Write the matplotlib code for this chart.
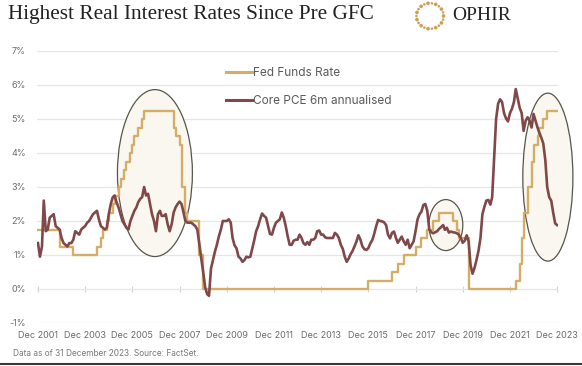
import numpy as np
import pandas as pd
import matplotlib
matplotlib.use("Agg")
import matplotlib.pyplot as plt
import matplotlib.dates as mdates
from matplotlib.patches import Ellipse
from matplotlib.lines import Line2D

# Core PCE 6m annualised (%), monthly from Dec 2001 to Dec 2023
pce_start = "2001-12-01"
pce_values = [
    1.35,                                                                  # Dec 2001
    0.95, 1.25, 2.6, 1.7, 1.75, 2.1, 2.15, 2.2, 1.85, 1.8, 1.75, 1.5,      # 2002
    1.35, 1.3, 1.25, 1.35, 1.35, 1.45, 1.7, 1.65, 1.6, 1.75, 1.8, 1.85,    # 2003
    1.95, 2.0, 2.1, 2.2, 2.25, 2.3, 2.05, 1.85, 1.8, 1.75, 1.8, 2.2,       # 2004
    2.5, 2.7, 2.75, 2.55, 2.4, 2.2, 2.0, 1.9, 1.8, 1.75, 2.0, 2.15,        # 2005
    2.3, 2.4, 2.55, 2.65, 2.7, 3.0, 2.75, 2.8, 2.5, 2.2, 2.0, 1.7,         # 2006
    2.2, 2.3, 2.15, 2.15, 2.2, 1.9, 1.7, 1.9, 2.25, 2.4, 2.5, 2.57,        # 2007
    2.5, 2.25, 2.0, 1.95, 1.95, 1.95, 1.9, 1.85, 1.75, 1.35, 0.9, 0.5,     # 2008
    0.05, -0.15, -0.2, 0.6, 0.85, 1.1, 1.3, 1.55, 1.75, 2.0, 2.0, 2.0,     # 2009
    2.05, 1.95, 1.5, 1.28, 1.2, 0.95, 0.9, 0.8, 0.85, 0.95, 0.93, 0.95,    # 2010
    1.2, 1.45, 1.7, 1.85, 2.05, 2.22, 2.15, 2.1, 1.85, 1.62, 1.6, 1.8,     # 2011
    1.95, 2.0, 2.05, 2.25, 2.1, 1.85, 1.55, 1.3, 1.3, 1.42, 1.45, 1.45,    # 2012
    1.6, 1.5, 1.35, 1.3, 1.38, 1.3, 1.45, 1.45, 1.5, 1.7, 1.72, 1.6,       # 2013
    1.6, 1.52, 1.5, 1.5, 1.5, 1.5, 1.65, 1.6, 1.5, 1.3, 1.18, 0.95,        # 2014
    0.8, 0.9, 1.02, 1.12, 1.25, 1.4, 1.58, 1.45, 1.25, 1.17, 1.15, 1.2,    # 2015
    1.34, 1.44, 1.62, 1.85, 2.03, 2.0, 1.99, 1.96, 1.88, 1.6, 1.49, 1.65,  # 2016
    1.69, 1.5, 1.36, 1.45, 1.54, 1.4, 1.3, 1.45, 1.2, 1.3, 1.4, 1.7,       # 2017
    2.05, 2.2, 2.27, 2.47, 2.5, 2.3, 1.75, 1.67, 1.64, 1.67, 1.7, 1.77,    # 2018
    1.82, 1.88, 1.74, 1.8, 1.66, 1.69, 1.67, 1.66, 1.64, 1.6, 1.5, 1.36,   # 2019
    1.42, 1.58, 1.4, 0.7, 0.45, 0.62, 0.85, 1.12, 1.5, 2.2, 2.42, 2.6,     # 2020
    2.62, 2.48, 2.7, 3.9, 5.0, 5.45, 5.58, 5.5, 5.17, 5.02, 4.93, 5.17,    # 2021
    5.3, 5.5, 5.88, 5.6, 5.33, 5.17, 4.65, 4.95, 5.05, 4.95, 4.75, 5.15,   # 2022
    4.95, 4.75, 4.6, 4.45, 4.28, 3.8, 3.0, 2.7, 2.6, 2.25, 1.93, 1.88,     # 2023
]

# Fed Funds Rate (%), month of each change
fed_dates = [
    "2001-12-01", "2002-11-01", "2003-06-01", "2004-06-01", "2004-08-01",
    "2004-09-01", "2004-11-01", "2004-12-01", "2005-02-01", "2005-03-01",
    "2005-05-01", "2005-06-01", "2005-08-01", "2005-09-01", "2005-11-01",
    "2005-12-01", "2006-01-01", "2006-03-01", "2006-05-01", "2006-06-01",
    "2007-09-01", "2007-10-01", "2007-12-01", "2008-01-01", "2008-03-01",
    "2008-04-01", "2008-10-01", "2008-12-01", "2015-12-01", "2016-12-01",
    "2017-03-01", "2017-06-01", "2017-12-01", "2018-03-01", "2018-06-01",
    "2018-09-01", "2018-12-01", "2019-07-01", "2019-09-01", "2019-10-01",
    "2020-03-01", "2022-03-01", "2022-05-01", "2022-06-01", "2022-07-01",
    "2022-09-01", "2022-11-01", "2022-12-01", "2023-02-01", "2023-03-01",
    "2023-05-01", "2023-07-01", "2023-12-01",
]
fed_rates = [
    1.75, 1.25, 1.0, 1.25, 1.5,
    1.75, 2.0, 2.25, 2.5, 2.75,
    3.0, 3.25, 3.5, 3.75, 4.0,
    4.25, 4.5, 4.75, 5.0, 5.25,
    4.75, 4.5, 4.25, 3.0, 2.25,
    2.0, 1.0, 0.0, 0.25, 0.5,
    0.75, 1.0, 1.25, 1.5, 1.75,
    2.0, 2.25, 2.0, 1.75, 1.5,
    0.0, 0.25, 0.75, 1.5, 2.25,
    3.0, 3.75, 4.25, 4.5, 4.75,
    5.0, 5.25, 5.25,
]

y_ticks = [-1, 0, 1, 2, 3, 4, 5, 6, 7]
x_tick_years = list(range(2001, 2024, 2))

# circled periods: centre date, centre value, width (days), height (%)
highlights = [
    ("2006-11-15", 3.41, 1160, 4.91),
    ("2019-03-15", 1.88, 525, 1.50),
    ("2023-07-11", 3.29, 775, 4.94),
]

gold = "#d4ae66"
maroon = "#804848"
grey_text = "#6b6b6b"
tick_font = "Inter"

pce_dates = pd.date_range(pce_start, periods=len(pce_values), freq="MS")
fed_x = pd.to_datetime(fed_dates)

fig = plt.figure(figsize=(5.82, 3.66), dpi=100)
ax = fig.add_axes([37 / 582, 43 / 366, 521 / 582, 272 / 366])

for c, v, w, h in highlights:
    e = Ellipse((mdates.date2num(pd.Timestamp(c)), v), w, h,
                facecolor="#faf7f0", edgecolor="#55554a", lw=0.9,
                zorder=1, clip_on=False)
    ax.add_patch(e)

ax.plot(fed_x, fed_rates, drawstyle="steps-post", color=gold, lw=1.7, zorder=3)
ax.plot(pce_dates, pce_values, color=maroon, lw=1.9, zorder=4)

ax.set_ylim(-1, 7)
ax.set_xlim(pd.Timestamp("2001-11-16"), pd.Timestamp("2023-12-15"))
ax.set_yticks(y_ticks)
ax.set_yticklabels([f"{t}%" for t in y_ticks])
xt = [pd.Timestamp(f"{y}-12-01") for y in x_tick_years]
ax.set_xticks(xt)
ax.set_xticklabels([f"Dec {y}" for y in x_tick_years])
ax.grid(axis="y", color="#e6e6e6", lw=0.9, zorder=0)
ax.set_axisbelow(True)
for s in ax.spines.values():
    s.set_visible(False)
ax.tick_params(axis="both", length=0, colors=grey_text, labelsize=6.5)
ax.tick_params(axis="y", pad=8)
ax.tick_params(axis="x", pad=6)
for lab in ax.get_xticklabels() + ax.get_yticklabels():
    lab.set_fontfamily(tick_font)

# small tick marks on the zero line
sec = ax.secondary_xaxis(0.125)
sec.set_xticks(xt)
sec.tick_params(length=4, direction="inout", color="#d0d0d0", labelbottom=False)
sec.spines["bottom"].set_visible(False)

handles = [Line2D([], [], color=gold, lw=2.2), Line2D([], [], color=maroon, lw=2.2)]
leg = ax.legend(handles, ["Fed Funds Rate", "Core PCE 6m annualised"],
                loc="upper left", bbox_to_anchor=(0.362, 0.94), frameon=False,
                handlelength=2.2, handletextpad=0.1, labelspacing=1.35,
                borderpad=0, borderaxespad=0,
                prop={"family": tick_font, "size": 8.5})
for t in leg.get_texts():
    t.set_color("#5a5a5a")

fig.text(8 / 582, 1 - 15 / 366, "Highest Real Interest Rates Since Pre GFC",
         family="Liberation Serif", fontsize=15.3, color="#222222", va="center")
fig.text(452 / 582, 1 - 15 / 366, "OPHIR", family="Liberation Serif",
         fontsize=14, color="#222222", va="center")

# logo ring of dots
lax = fig.add_axes([413 / 582, 1 - 32 / 366, 34 / 582, 32 / 366])
theta = np.linspace(0, 2 * np.pi, 22, endpoint=False)
sizes = np.where(np.arange(22) % 2 == 0, 7.0, 3.5)
lax.scatter(np.cos(theta), np.sin(theta), s=sizes, color="#c9a257", lw=0)
lax.set_xlim(-1.25, 1.25)
lax.set_ylim(-1.25, 1.25)
lax.axis("off")

fig.text(13 / 582, 1 - 353 / 366, "Data as of 31 December 2023. Source: FactSet.",
         family=tick_font, fontsize=6, color="#777777", va="center")
fig.add_artist(Line2D([0, 1], [2 / 366, 2 / 366], color="#3a3a3a", lw=1.5,
                      transform=fig.transFigure))

fig.savefig("out.png", dpi=100, facecolor="white")
